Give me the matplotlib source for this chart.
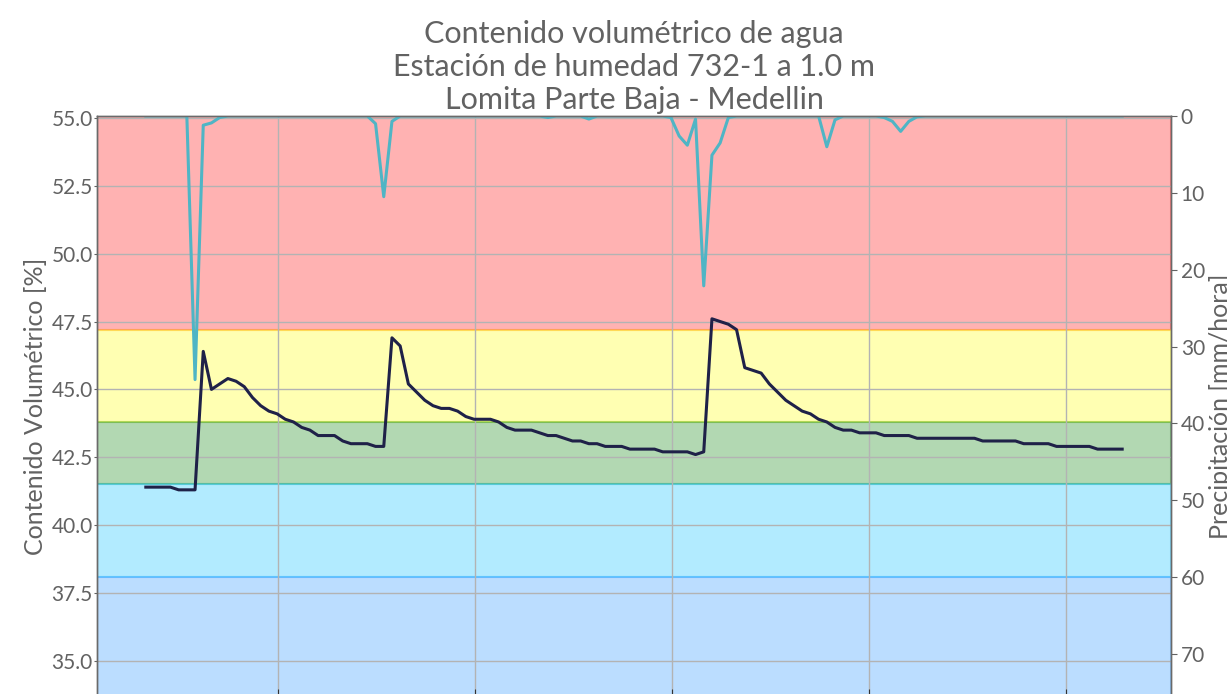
import matplotlib
matplotlib.use('Agg')
import matplotlib.pyplot as plt
import numpy as np

plt.rcParams['font.family'] = ['Lato', 'DejaVu Sans']

# hourly series, station 732-1 at 1.0 m
humedad = [41.4, 41.4, 41.4, 41.4, 41.3, 41.3, 41.3, 46.4, 45.0, 45.2,
           45.4, 45.3, 45.1, 44.7, 44.4, 44.2, 44.1, 43.9, 43.8, 43.6,
           43.5, 43.3, 43.3, 43.3, 43.1, 43.0, 43.0, 43.0, 42.9, 42.9,
           46.9, 46.6, 45.2, 44.9, 44.6, 44.4, 44.3, 44.3, 44.2, 44.0,
           43.9, 43.9, 43.9, 43.8, 43.6, 43.5, 43.5, 43.5, 43.4, 43.3,
           43.3, 43.2, 43.1, 43.1, 43.0, 43.0, 42.9, 42.9, 42.9, 42.8,
           42.8, 42.8, 42.8, 42.7, 42.7, 42.7, 42.7, 42.6, 42.7, 47.6,
           47.5, 47.4, 47.2, 45.8, 45.7, 45.6, 45.2, 44.9, 44.6, 44.4,
           44.2, 44.1, 43.9, 43.8, 43.6, 43.5, 43.5, 43.4, 43.4, 43.4,
           43.3, 43.3, 43.3, 43.3, 43.2, 43.2, 43.2, 43.2, 43.2, 43.2,
           43.2, 43.2, 43.1, 43.1, 43.1, 43.1, 43.1, 43.0, 43.0, 43.0,
           43.0, 42.9, 42.9, 42.9, 42.9, 42.9, 42.8, 42.8, 42.8, 42.8]

lluvia = [0, 0, 0, 0, 0, 0, 34.3, 1.2, 0.9, 0.2,
          0, 0, 0, 0, 0, 0, 0, 0, 0, 0,
          0, 0, 0, 0, 0, 0, 0, 0, 1.0, 10.5,
          0.7, 0, 0, 0, 0, 0, 0, 0, 0, 0,
          0, 0, 0, 0, 0, 0, 0, 0, 0, 0.2,
          0, 0, 0, 0, 0.4, 0, 0, 0, 0, 0,
          0, 0, 0, 0, 0.2, 2.6, 3.8, 0.4, 22.1, 5.1,
          3.5, 0.2, 0, 0, 0, 0, 0, 0, 0, 0,
          0, 0, 0, 4.0, 0.5, 0, 0, 0, 0, 0,
          0.2, 0.7, 2.0, 0.7, 0.1, 0, 0, 0, 0, 0,
          0, 0, 0, 0, 0, 0, 0, 0, 0, 0,
          0, 0, 0, 0, 0, 0, 0, 0, 0, 0]

horas = np.arange(len(humedad))
dias = [16.1, 40.1, 64.1, 88.1, 112.1]  # midnight of each day

# moisture ranges (limits in %)
rangos = [(47.2, 60.0, 'red'), (43.8, 47.2, 'yellow'), (41.5, 43.8, 'green'),
          (38.1, 41.5, 'deepskyblue'), (30.0, 38.1, 'dodgerblue')]

gris = '#626262'

fig = plt.figure(figsize=(12.27, 6.94), dpi=100, facecolor='white')
ax = fig.add_axes([97 / 1227, 1 - 697 / 694, 1074 / 1227, 581 / 694])

for lo, hi, c in rangos:
    ax.axhspan(lo, hi, facecolor=c, edgecolor=c, alpha=0.3, lw=1.5)

ax.plot(horas, humedad, color='#1f2148', lw=2.2, zorder=3)
ax.set_ylim(33.67, 55.07)
ax.set_yticks(np.arange(35.0, 55.1, 2.5))
ax.yaxis.set_major_formatter(matplotlib.ticker.FormatStrFormatter('%.1f'))
ax.set_xlim(-5.95, len(humedad) - 1 + 5.95)
ax.set_xticks(dias)
ax.set_xticklabels([])
ax.grid(True, color='#b3b3b3', lw=1.0)
ax.set_ylabel('Contenido Volumétrico [%]', fontsize=18, color=gris, labelpad=3)
ax.tick_params(axis='y', labelsize=15, labelcolor=gris, color=gris,
               length=2, pad=1)
ax.tick_params(axis='x', direction='in', length=6, color='#333333')

ax2 = ax.twinx()
ax2.plot(horas, lluvia, color='#4fb5c5', lw=2.2)
ax2.set_ylim(75.6, 0)
ax2.set_yticks(np.arange(0, 71, 10))
ax2.set_ylabel('Precipitación [mm/hora]', fontsize=18, color=gris, labelpad=3)
ax2.tick_params(axis='y', labelsize=15, labelcolor=gris, color=gris,
                length=4, pad=3)

for a in (ax, ax2):
    for s in a.spines.values():
        s.set_color('#6a6a6a')
        s.set_linewidth(1.0)

ax.set_title('Contenido volumétrico de agua\nEstación de humedad 732-1 a 1.0 m\n'
             'Lomita Parte Baja - Medellin', fontsize=22, color=gris, pad=5,
             linespacing=1.21)

fig.savefig('out.png', dpi=100, facecolor=fig.get_facecolor())
